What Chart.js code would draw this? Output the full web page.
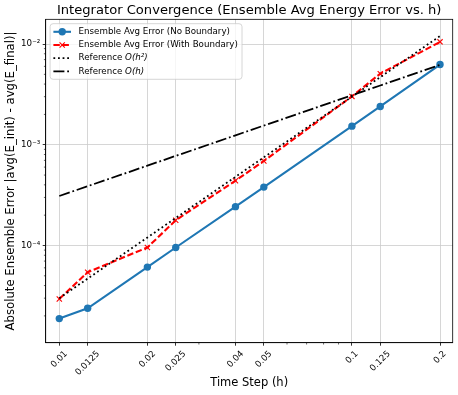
<!DOCTYPE html>
<html><head><meta charset="utf-8">
<script src="https://cdn.jsdelivr.net/npm/chart.js@4.4.1/dist/chart.umd.min.js"></script>
<style>html,body{margin:0;padding:0;background:#fff}#wrap{position:relative;width:458px;height:395px}</style>
</head><body><div id="wrap"><canvas id="c"></canvas></div>
<script>
// ---- data ----
const timeSteps = [0.01, 0.0125, 0.02, 0.025, 0.04, 0.05, 0.1, 0.125, 0.2];
const xTickLabels = ['0.01', '0.0125', '0.02', '0.025', '0.04', '0.05', '0.1', '0.125', '0.2'];
const errNoBoundary = [1.88e-5, 2.38e-5, 6.1e-5, 9.55e-5, 2.43e-4, 3.8e-4, 1.53e-3, 2.4e-3, 6.25e-3];
const errWithBoundary = [2.95e-5, 5.43e-5, 9.55e-5, 1.78e-4, 4.4e-4, 6.9e-4, 3.02e-3, 5.08e-3, 1.05e-2];
const refOh2 = [3.0e-5, 4.69e-5, 1.2e-4, 1.875e-4, 4.8e-4, 7.5e-4, 3.0e-3, 4.69e-3, 1.2e-2];
const refOh1 = [3.1e-4, 3.875e-4, 6.2e-4, 7.75e-4, 1.24e-3, 1.55e-3, 3.1e-3, 3.875e-3, 6.2e-3];
const yMajorTicks = [1e-4, 1e-3, 1e-2];
const yTickLabels = ['10⁻⁴', '10⁻³', '10⁻²'];
const xMinorTicks = [0.03, 0.06, 0.07, 0.08, 0.09];
const seriesNames = ['Ensemble Avg Error (No Boundary)', 'Ensemble Avg Error (With Boundary)', 'Reference ', 'Reference '];
const seriesMath = ['', '', 'O(h²)', 'O(h)'];
const chartTitle = 'Integrator Convergence (Ensemble Avg Energy Error vs. h)';
const xTitle = 'Time Step (h)';
const yTitle = 'Absolute Ensemble Error |avg(E_init) - avg(E_final)|';

const X_MIN = 0.008985, X_MAX = 0.2210, Y_MIN = 1.084e-5, Y_MAX = 0.01758;
const FONT = '"DejaVu Sans", sans-serif';

const yMinorTicks = [];
for (let e = -5; e <= -2; e++) for (let m = 2; m <= 9; m++) {
  const v = m * Math.pow(10, e);
  if (v >= Y_MIN && v <= Y_MAX) yMinorTicks.push(v);
}

const pts = ys => timeSteps.map((x, i) => ({x: x, y: ys[i]}));

const styles = [
  {color: '#1f77b4', dash: [], width: 2.1, point: 'circle', r: 3.7},
  {color: '#ff0000', dash: [6.4, 2.7], width: 2.1, point: 'crossRot', r: 3.7},
  {color: '#000000', dash: [1.8, 2.8], width: 1.8, point: null, r: 0},
  {color: '#000000', dash: [11, 2.8, 1.8, 2.8], width: 1.8, point: null, r: 0}
];
const seriesData = [errNoBoundary, errWithBoundary, refOh2, refOh1];

const datasets = seriesData.map((d, i) => ({
  label: seriesNames[i] + seriesMath[i],
  data: pts(d),
  borderColor: styles[i].color,
  backgroundColor: styles[i].color,
  borderWidth: styles[i].width,
  borderDash: styles[i].dash,
  borderCapStyle: 'butt',
  pointStyle: styles[i].point || 'circle',
  pointRadius: styles[i].r,
  pointBackgroundColor: styles[i].color,
  pointBorderColor: styles[i].color,
  pointBorderWidth: i === 1 ? 1.1 : 0,
  tension: 0,
  fill: false,
  order: 3 - i
}));

const isMajorY = v => yMajorTicks.some(t => Math.abs(v / t - 1) < 1e-6);

const customDraw = {
  id: 'customDraw',
  afterDatasetsDraw(chart) {
    const {ctx, chartArea: a} = chart;
    ctx.save();
    ctx.strokeStyle = '#000';
    ctx.lineWidth = 0.8;
    ctx.strokeRect(a.left, a.top, a.right - a.left, a.bottom - a.top);
    ctx.restore();
  },
  afterDraw(chart) {
    const {ctx, chartArea: a, scales: {x, y}} = chart;
    ctx.save();
    // minor ticks
    ctx.strokeStyle = '#000';
    ctx.lineWidth = 0.6;
    ctx.beginPath();
    yMinorTicks.forEach(v => {
      const py = y.getPixelForValue(v);
      ctx.moveTo(a.left, py); ctx.lineTo(a.left - 1.8, py);
    });
    xMinorTicks.forEach(v => {
      const px = x.getPixelForValue(v);
      ctx.moveTo(px, a.bottom); ctx.lineTo(px, a.bottom + 1.8);
    });
    ctx.stroke();
    // x tick labels, rotated 45deg, centred on tick (matplotlib style)
    const fs = 8.7;
    ctx.font = fs + 'px ' + FONT;
    ctx.fillStyle = '#000';
    ctx.textAlign = 'center';
    ctx.textBaseline = 'middle';
    const c = Math.SQRT1_2;
    timeSteps.forEach((v, i) => {
      const L = ctx.measureText(xTickLabels[i]).width;
      const H = fs * 1.17;
      const boxH = (L + H) * c;
      const px = x.getPixelForValue(v);
      const top = a.bottom + 6.1;
      ctx.save();
      ctx.translate(px, top + boxH / 2);
      ctx.rotate(-Math.PI / 4);
      ctx.fillText(xTickLabels[i], 0, 0);
      ctx.restore();
    });
    // legend
    const lx = 50.1, ly = 23.7, lw = 191.9, lh = 55.6, rr = 3;
    ctx.beginPath();
    ctx.moveTo(lx + rr, ly);
    ctx.arcTo(lx + lw, ly, lx + lw, ly + lh, rr);
    ctx.arcTo(lx + lw, ly + lh, lx, ly + lh, rr);
    ctx.arcTo(lx, ly + lh, lx, ly, rr);
    ctx.arcTo(lx, ly, lx + lw, ly, rr);
    ctx.closePath();
    ctx.fillStyle = 'rgba(255,255,255,0.8)';
    ctx.fill();
    ctx.strokeStyle = '#cccccc';
    ctx.lineWidth = 0.8;
    ctx.stroke();
    const rows = [31.8, 45.0, 58.2, 71.4];
    rows.forEach((ry, i) => {
      const s = styles[i];
      ctx.save();
      ctx.strokeStyle = s.color;
      ctx.lineWidth = s.width;
      ctx.setLineDash(s.dash);
      ctx.lineCap = 'butt';
      ctx.beginPath();
      ctx.moveTo(53.4, ry); ctx.lineTo(71.0, ry);
      ctx.stroke();
      ctx.setLineDash([]);
      const cx = 62.2;
      if (s.point === 'circle') {
        ctx.fillStyle = s.color;
        ctx.beginPath(); ctx.arc(cx, ry, s.r, 0, Math.PI * 2); ctx.fill();
      } else if (s.point === 'crossRot') {
        const d = s.r * c;
        ctx.lineWidth = 1.1;
        ctx.beginPath();
        ctx.moveTo(cx - d, ry - d); ctx.lineTo(cx + d, ry + d);
        ctx.moveTo(cx - d, ry + d); ctx.lineTo(cx + d, ry - d);
        ctx.stroke();
      }
      ctx.restore();
      ctx.fillStyle = '#000';
      ctx.textAlign = 'left';
      ctx.textBaseline = 'middle';
      ctx.font = fs + 'px ' + FONT;
      ctx.fillText(seriesNames[i], 78.6, ry);
      if (seriesMath[i]) {
        const w = ctx.measureText(seriesNames[i]).width;
        ctx.font = 'italic ' + fs + 'px ' + FONT;
        ctx.fillText(seriesMath[i], 78.6 + w, ry);
      }
    });
    ctx.restore();
  }
};

new Chart(document.getElementById('c'), {
  type: 'line',
  data: {datasets: datasets},
  options: {
    responsive: true,
    maintainAspectRatio: false,
    animation: false,
    events: [],
    layout: {padding: {left: 0, right: 5.3, top: 0, bottom: 0}},
    plugins: {
      legend: {display: false},
      tooltip: {enabled: false},
      title: {
        display: true,
        fullSize: false,
        text: chartTitle,
        color: '#000',
        font: {family: FONT, size: 13.1, weight: 'normal', lineHeight: 1.2},
        padding: {top: 3.0, bottom: 0.6}
      }
    },
    scales: {
      x: {
        type: 'logarithmic',
        min: X_MIN, max: X_MAX,
        bounds: 'data',
        afterBuildTicks: s => { s.ticks = timeSteps.map(v => ({value: v})); },
        afterFit: s => { s.height = 52.3; },
        ticks: {display: false, autoSkip: false},
        grid: {color: '#cbcbcb', lineWidth: 0.8, drawTicks: true, tickLength: 3, tickColor: '#000', tickWidth: 0.8},
        border: {display: true, color: '#000', width: 0.8},
        title: {display: true, text: xTitle, color: '#000', font: {family: FONT, size: 11.5, lineHeight: 1.2}, padding: {top: 0, bottom: 4.8}}
      },
      y: {
        type: 'logarithmic',
        min: Y_MIN, max: Y_MAX,
        bounds: 'data',
        afterBuildTicks: s => {
          const all = yMajorTicks.concat(yMinorTicks).sort((p, q) => p - q);
          s.ticks = all.map(v => ({value: v, isMajor: isMajorY(v)}));
        },
        afterFit: s => { s.width = 45.7; },
        ticks: {
          autoSkip: false,
          color: '#000',
          padding: 2.5,
          font: {family: FONT, size: 8.7},
          callback: v => { const k = yMajorTicks.findIndex(t => Math.abs(v / t - 1) < 1e-6); return k >= 0 ? yTickLabels[k] : ''; }
        },
        grid: {
          color: c => (c.tick && c.tick.isMajor) ? '#cbcbcb' : 'rgba(0,0,0,0)',
          lineWidth: 0.8,
          drawTicks: true,
          tickLength: 3,
          tickColor: c => (c.tick && c.tick.isMajor) ? '#000' : 'rgba(0,0,0,0)',
          tickWidth: 0.8
        },
        border: {display: true, color: '#000', width: 0.8},
        title: {display: true, text: yTitle, color: '#000', font: {family: FONT, size: 11.7, lineHeight: 1.2}, padding: {top: 4.1, bottom: 0}}
      }
    }
  },
  plugins: [customDraw]
});
</script>
</body></html>
